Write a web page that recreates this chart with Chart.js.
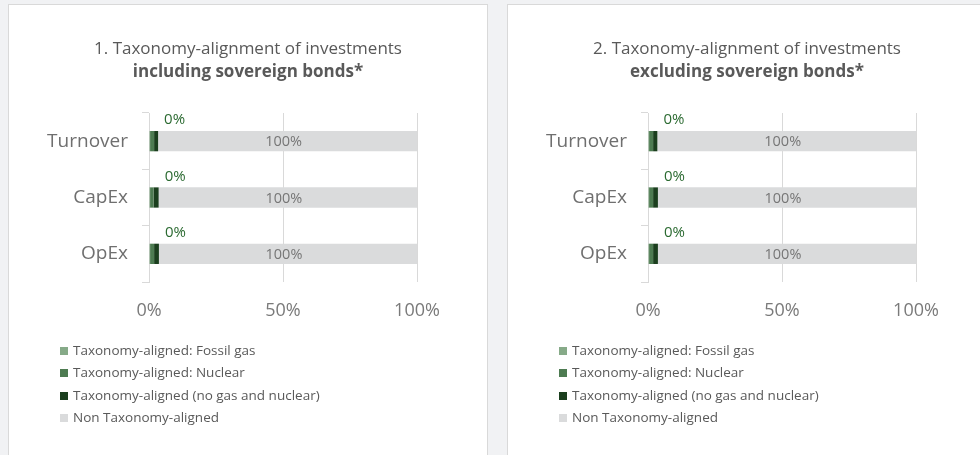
<!DOCTYPE html>
<html>
<head>
<meta charset="utf-8">
<script src="https://cdn.jsdelivr.net/npm/chart.js@4.4.1/dist/chart.umd.min.js"></script>
<style>
  body { margin: 0; background: #f1f2f4; font-family: "Open Sans", sans-serif; }
  .panel {
    position: absolute; top: 4px; width: 480px; height: 470px;
    background: #fff; border: 1px solid #d9d9d9; box-sizing: border-box;
  }
  .panel canvas { position: absolute; left: 0; top: 0; }
  .title {
    position: absolute; left: 0; right: 0; top: 31px;
    text-align: center; color: #595959; font-size: 17px; line-height: 23px;
  }
  .legend { position: absolute; left: 51px; top: 335px; color: #595959; font-size: 13.5px; }
  .legend div { height: 22.4px; line-height: 20px; white-space: nowrap; }
  .legend span { display: inline-block; width: 8px; height: 8px; margin-right: 5px; vertical-align: 0px; }
</style>
</head>
<body>
<div class="panel" id="p1" style="left:8px">
  <canvas id="chart1" width="478" height="455"></canvas>
  <div class="title">1. Taxonomy-alignment of investments<br><b>including sovereign bonds*</b></div>
  <div class="legend" id="legend1"></div>
</div>
<div class="panel" id="p2" style="left:507px">
  <canvas id="chart2" width="478" height="455"></canvas>
  <div class="title">2. Taxonomy-alignment of investments<br><b>excluding sovereign bonds*</b></div>
  <div class="legend" id="legend2"></div>
</div>
<script>
// ==========================
// DATA
// ==========================
const categories = ["Turnover", "CapEx", "OpEx"];
const xTicks = [0, 50, 100];

const seriesNames = [
  "Taxonomy-aligned: Fossil gas",
  "Taxonomy-aligned: Nuclear",
  "Taxonomy-aligned (no gas and nuclear)",
  "Non Taxonomy-aligned"
];
const seriesColors = ["#86aa88", "#4d7b51", "#1b3f1e", "#dadbdc"];

// chart 1 - including sovereign bonds (% of investments)
const fossilGas1 = [0.4, 0.4, 0.4];
const nuclear1 = [1.5, 1.3, 1.5];
const aligned1 = [1.5, 1.9, 1.8];
const nonAligned1 = [96.6, 96.4, 96.3];

// chart 2 - excluding sovereign bonds
const fossilGas2 = [0.4, 0.4, 0.4];
const nuclear2 = [1.5, 1.5, 1.5];
const aligned2 = [1.6, 1.8, 1.8];
const nonAligned2 = [96.5, 96.3, 96.3];

// labels as printed on the bars
const alignedLabels1 = ["0%", "0%", "0%"];
const nonAlignedLabels1 = ["100%", "100%", "100%"];
const alignedLabels2 = ["0%", "0%", "0%"];
const nonAlignedLabels2 = ["100%", "100%", "100%"];

// ==========================
// BAR LABELS PLUGIN
// ==========================
const barLabels = {
  id: "barLabels",
  afterDatasetsDraw(chart, args, opts) {
    const ctx = chart.ctx;
    ctx.save();
    ctx.textBaseline = "middle";

    // aligned share, written above the bar start
    chart.getDatasetMeta(2).data.forEach((bar, i) => {
      ctx.font = "15px 'Open Sans'";
      ctx.fillStyle = "#2b6a31";
      ctx.textAlign = "left";
      ctx.fillText(opts.aligned[i], bar.x + 6, bar.y - 21);
    });

    // non aligned share, roughly centred in the bar
    chart.getDatasetMeta(3).data.forEach((bar, i) => {
      ctx.font = "14.5px 'Open Sans'";
      ctx.fillStyle = "#767676";
      ctx.textAlign = "center";
      ctx.fillText(opts.nonAligned[i], (bar.base + bar.x) / 2 - 4, bar.y + 1);
    });
    ctx.restore();
  }
};

function buildLegend(chart, el) {
  el.innerHTML = "";
  chart.data.datasets.forEach(ds => {
    const row = document.createElement("div");
    const box = document.createElement("span");
    box.style.background = ds.backgroundColor;
    row.appendChild(box);
    row.appendChild(document.createTextNode(ds.label));
    el.appendChild(row);
  });
}

function makeChart(canvasId, legendId, values, alignedLabels, nonAlignedLabels) {
  const ctx = document.getElementById(canvasId).getContext("2d");
  const chart = new Chart(ctx, {
    type: "bar",
    data: {
      labels: categories,
      datasets: values.map((data, i) => ({
        label: seriesNames[i],
        data,
        backgroundColor: seriesColors[i],
        borderWidth: 0,
        barPercentage: 0.36,
        categoryPercentage: 1
      }))
    },
    options: {
      indexAxis: "y",
      responsive: false,
      animation: false,
      layout: { padding: { top: 108, right: 70, left: 0, bottom: 0 } },
      plugins: {
        legend: { display: false },
        tooltip: { enabled: false },
        barLabels: { aligned: alignedLabels, nonAligned: nonAlignedLabels }
      },
      scales: {
        x: {
          stacked: true,
          min: 0,
          max: 100,
          afterBuildTicks: s => { s.ticks = xTicks.map(v => ({ value: v })); },
          afterFit: s => { s.height = 178; },
          ticks: {
            callback: v => v + "%",
            color: "#7a7a7a",
            font: { family: "Open Sans", size: 18 },
            padding: 18,
            maxRotation: 0
          },
          grid: { color: "#d9d9d9", lineWidth: 1, tickLength: 0 },
          border: { display: false }
        },
        y: {
          stacked: true,
          afterFit: s => { s.width = 140; },
          ticks: {
            color: "#6f6f6f",
            font: { family: "Open Sans", size: 19 },
            padding: 14
          },
          grid: { drawOnChartArea: false, tickLength: 7, color: "#d9d9d9", offset: true },
          border: { display: true, color: "#d9d9d9" }
        }
      }
    },
    plugins: [barLabels]
  });
  buildLegend(chart, document.getElementById(legendId));
  return chart;
}

makeChart("chart1", "legend1",
  [fossilGas1, nuclear1, aligned1, nonAligned1], alignedLabels1, nonAlignedLabels1);
makeChart("chart2", "legend2",
  [fossilGas2, nuclear2, aligned2, nonAligned2], alignedLabels2, nonAlignedLabels2);
</script>
</body>
</html>
